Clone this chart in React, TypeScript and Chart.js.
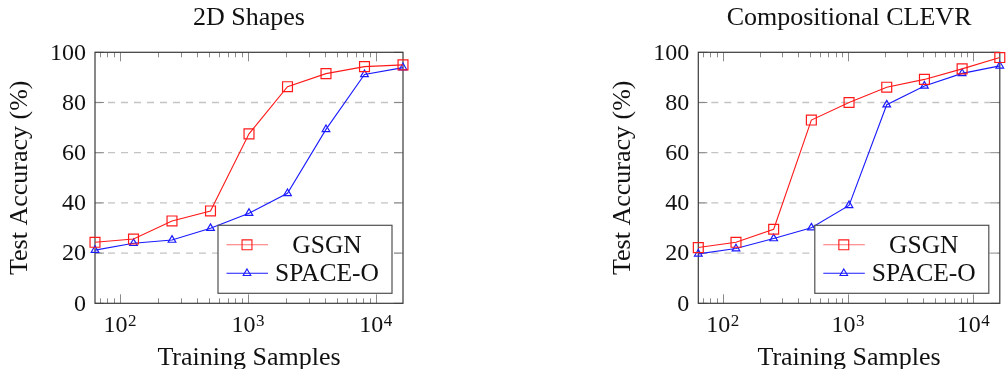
import React, { useEffect, useRef } from 'react';
import { Chart, registerables } from 'chart.js';

Chart.register(...registerables);

// ---- data ----
const samples = [64, 128, 256, 512, 1024, 2048, 4096, 8192, 16384];
const shapesGSGN = [24.3, 25.6, 32.8, 36.8, 67.5, 86.3, 91.5, 94.3, 95.0];
const shapesSPACE = [21.2, 23.9, 25.2, 29.9, 35.9, 43.8, 69.3, 91.2, 93.9];
const clevrGSGN = [22.2, 24.3, 29.5, 73.0, 80.0, 86.1, 89.2, 93.4, 97.9];
const clevrSPACE = [19.7, 21.8, 25.8, 30.1, 39.0, 79.1, 86.6, 91.6, 94.6];
const seriesNames = ['GSGN', 'SPACE-O'];
const panelTitles = ['2D Shapes', 'Compositional CLEVR'];
const xAxisTitle = 'Training Samples';
const yAxisTitle = 'Test Accuracy (%)';
const yTicks = [0, 20, 40, 60, 80, 100];
const xMajorTicks = [100, 1000, 10000];
const xMajorLabels = [['10', '2'], ['10', '3'], ['10', '4']];
const xMinorTicks = [70, 80, 90, 200, 300, 400, 500, 600, 700, 800, 900, 2000, 3000, 4000, 5000, 6000, 7000, 8000, 9000];

const RED = '#ff1a1a';
const BLUE = '#1a1aff';
const GRID = '#c4c4c4';
const TICK = '#8a8a8a';
const FRAME = '#3a3a3a';
const TEXT = '#111111';
const SERIF = '"Liberation Serif", "Times New Roman", serif';

function line(ctx: CanvasRenderingContext2D, x1: number, y1: number, x2: number, y2: number) {
  ctx.beginPath();
  ctx.moveTo(x1, y1);
  ctx.lineTo(x2, y2);
  ctx.stroke();
}

function drawSquare(ctx: CanvasRenderingContext2D, cx: number, cy: number, r: number) {
  const s = Math.SQRT1_2 * r;
  ctx.beginPath();
  ctx.rect(cx - s, cy - s, 2 * s, 2 * s);
  ctx.stroke();
}

function drawTriangle(ctx: CanvasRenderingContext2D, cx: number, cy: number, r: number) {
  ctx.beginPath();
  let rad = 0;
  ctx.moveTo(cx + Math.sin(rad) * r, cy - Math.cos(rad) * r);
  rad += (2 * Math.PI) / 3;
  ctx.lineTo(cx + Math.sin(rad) * r, cy - Math.cos(rad) * r);
  rad += (2 * Math.PI) / 3;
  ctx.lineTo(cx + Math.sin(rad) * r, cy - Math.cos(rad) * r);
  ctx.closePath();
  ctx.stroke();
}

const SQ_R = 7;
const TRI_R = 4.4;

function makeDecor(title: string) {
  return {
    id: 'decor',
    beforeDatasetsDraw(chart: any) {
      const { ctx, chartArea: a, scales } = chart;
      const x = scales.x;
      const y = scales.y;
      ctx.save();
      // dashed horizontal grid
      ctx.strokeStyle = GRID;
      ctx.lineWidth = 1.3;
      ctx.setLineDash([7, 6]);
      for (const v of yTicks) {
        if (v === yTicks[0] || v === yTicks[yTicks.length - 1]) continue;
        const py = y.getPixelForValue(v);
        line(ctx, a.left, py, a.right, py);
      }
      ctx.setLineDash([]);
      // ticks
      ctx.strokeStyle = TICK;
      ctx.lineWidth = 1;
      for (const v of xMinorTicks) {
        const px = Math.round(x.getPixelForValue(v)) + 0.5;
        line(ctx, px, a.bottom, px, a.bottom - 5);
        line(ctx, px, a.top, px, a.top + 5);
      }
      for (const v of xMajorTicks) {
        const px = Math.round(x.getPixelForValue(v)) + 0.5;
        line(ctx, px, a.bottom, px, a.bottom - 9);
        line(ctx, px, a.top, px, a.top + 9);
      }
      for (const v of yTicks) {
        const py = y.getPixelForValue(v);
        line(ctx, a.left, py, a.left + 9, py);
        line(ctx, a.right, py, a.right - 9, py);
      }
      // frame
      ctx.strokeStyle = FRAME;
      ctx.lineWidth = 1.2;
      ctx.strokeRect(a.left, a.top, a.right - a.left, a.bottom - a.top);
      ctx.restore();
    },
    afterDatasetsDraw(chart: any) {
      const { ctx, chartArea: a } = chart;
      const bw = 174;
      const bh = 68;
      const bx = a.right - 11 - bw;
      const by = a.bottom - 10 - bh;
      ctx.save();
      ctx.fillStyle = '#ffffff';
      ctx.fillRect(bx, by, bw, bh);
      ctx.strokeStyle = '#505050';
      ctx.lineWidth = 1.2;
      ctx.strokeRect(bx, by, bw, bh);
      const rows = [by + 19.5, by + 48];
      const ds = chart.data.datasets;
      // row 1
      ctx.strokeStyle = '#ff7070';
      ctx.lineWidth = 1.1;
      line(ctx, bx + 8.5, rows[0], bx + 50, rows[0]);
      ctx.strokeStyle = ds[0].pointBorderColor;
      drawSquare(ctx, bx + 29, rows[0], SQ_R);
      // row 2
      ctx.strokeStyle = ds[1].borderColor;
      line(ctx, bx + 8.5, rows[1], bx + 50, rows[1]);
      drawTriangle(ctx, bx + 29, rows[1], TRI_R);
      ctx.fillStyle = TEXT;
      ctx.font = `25.5px ${SERIF}`;
      ctx.textAlign = 'center';
      ctx.textBaseline = 'middle';
      ctx.fillText(ds[0].label, bx + 109, rows[0] + 1);
      ctx.fillText(ds[1].label, bx + 109, rows[1] + 1);
      ctx.restore();
    },
    afterDraw(chart: any) {
      const { ctx, chartArea: a, scales } = chart;
      const x = scales.x;
      const y = scales.y;
      const cx = (a.left + a.right) / 2;
      const cy = (a.top + a.bottom) / 2;
      ctx.save();
      ctx.fillStyle = TEXT;
      // title
      ctx.font = `26px ${SERIF}`;
      ctx.textAlign = 'center';
      ctx.textBaseline = 'alphabetic';
      ctx.fillText(title, cx, 25);
      // x title
      ctx.fillText(xAxisTitle, cx, 365);
      // y title
      ctx.save();
      ctx.translate(a.left - 68, cy);
      ctx.rotate(-Math.PI / 2);
      ctx.fillText(yAxisTitle, 0, 0);
      ctx.restore();
      // y tick labels
      ctx.font = `24px ${SERIF}`;
      ctx.textAlign = 'right';
      ctx.textBaseline = 'middle';
      for (const v of yTicks) {
        ctx.fillText(String(v), a.left - 9, y.getPixelForValue(v) + 1);
      }
      // x tick labels
      ctx.textAlign = 'left';
      ctx.textBaseline = 'alphabetic';
      xMajorTicks.forEach((v, i) => {
        const [base, sup] = xMajorLabels[i];
        ctx.font = `24px ${SERIF}`;
        const wb = ctx.measureText(base).width;
        ctx.font = `17px ${SERIF}`;
        const ws = ctx.measureText(sup).width;
        const px = x.getPixelForValue(v);
        const sx = px - (wb + ws) / 2;
        ctx.font = `24px ${SERIF}`;
        ctx.fillText(base, sx, 332);
        ctx.font = `17px ${SERIF}`;
        ctx.fillText(sup, sx + wb + 0.5, 325.5);
      });
      ctx.restore();
    },
  };
}

function Panel(props: { title: string; gsgn: number[]; space: number[]; left: number; padLeft: number; padRight: number }) {
  const ref = useRef<HTMLCanvasElement>(null);
  useEffect(() => {
    const canvas = ref.current;
    if (!canvas) return;
    const chart = new Chart(canvas, {
      type: 'line',
      data: {
        datasets: [
          {
            label: seriesNames[0],
            data: samples.map((s, i) => ({ x: s, y: props.gsgn[i] })),
            borderColor: RED,
            backgroundColor: 'transparent',
            borderWidth: 1.1,
            pointStyle: 'rect',
            pointRadius: SQ_R,
            pointBorderColor: RED,
            pointBackgroundColor: 'transparent',
            pointBorderWidth: 1.2,
            tension: 0,
            clip: false as any,
          },
          {
            label: seriesNames[1],
            data: samples.map((s, i) => ({ x: s, y: props.space[i] })),
            borderColor: BLUE,
            backgroundColor: 'transparent',
            borderWidth: 1.1,
            pointStyle: 'triangle',
            pointRadius: TRI_R,
            pointBorderColor: BLUE,
            pointBackgroundColor: 'transparent',
            pointBorderWidth: 1.2,
            tension: 0,
            clip: false as any,
          },
        ],
      },
      options: {
        responsive: false,
        animation: false,
        events: [],
        layout: { padding: { left: props.padLeft, right: props.padRight, top: 52.3, bottom: 369 - 303.3 } },
        plugins: { legend: { display: false }, tooltip: { enabled: false }, title: { display: false } },
        scales: {
          x: { type: 'logarithmic', min: 64, max: 16384, display: false },
          y: { type: 'linear', min: 0, max: 100, display: false },
        },
      },
      plugins: [makeDecor(props.title)],
    } as any);
    return () => chart.destroy();
  }, []);
  return (
    <canvas
      ref={ref}
      width={504}
      height={369}
      style={{ position: 'absolute', left: props.left, top: 0, width: 504, height: 369, display: 'block' }}
    />
  );
}

export default function App() {
  return (
    <div style={{ position: 'absolute', left: 0, top: 0, width: 1008, height: 369, background: '#fff', overflow: 'hidden' }}>
      <Panel title={panelTitles[0]} gsgn={shapesGSGN} space={shapesSPACE} left={0} padLeft={95} padRight={101} />
      <Panel title={panelTitles[1]} gsgn={clevrGSGN} space={clevrSPACE} left={504} padLeft={194.3} padRight={1.3} />
    </div>
  );
}
